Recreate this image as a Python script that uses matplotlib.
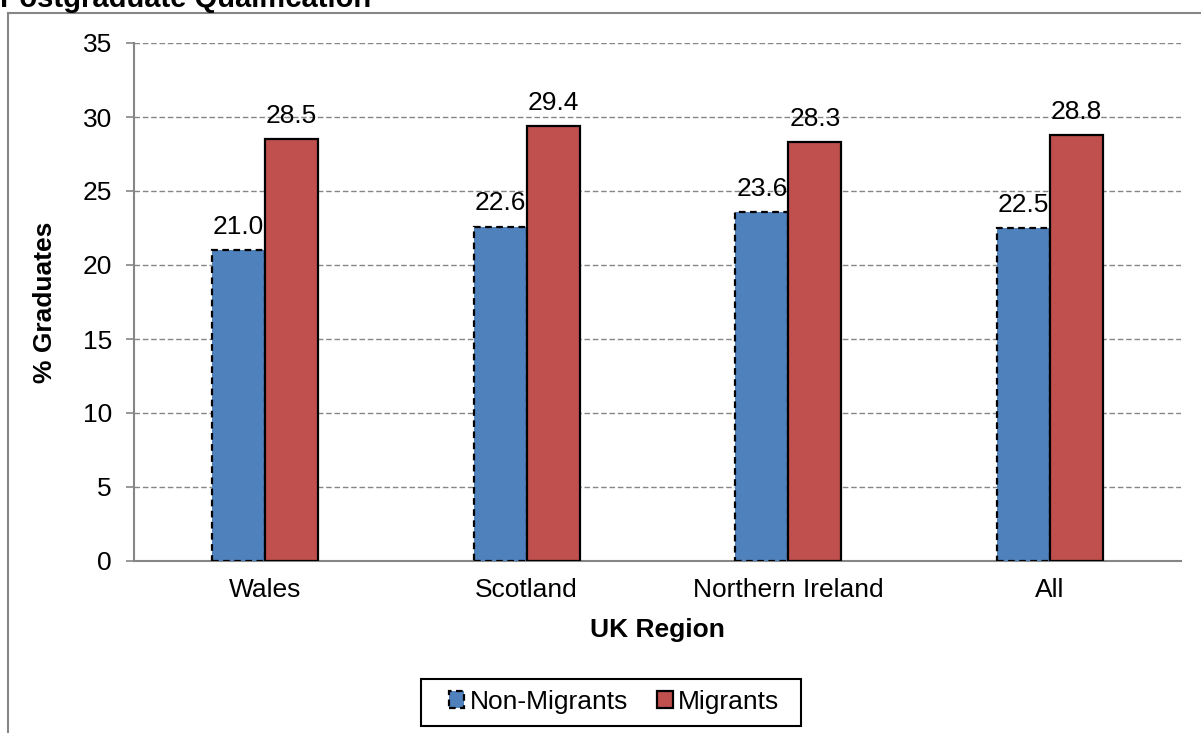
import numpy as np
import matplotlib.pyplot as plt
from matplotlib.patches import Patch, Rectangle
from matplotlib.lines import Line2D

regions = ["Wales", "Scotland", "Northern Ireland", "All"]
non_migrants = [21.0, 22.6, 23.6, 22.5]
migrants = [28.5, 29.4, 28.3, 28.8]
y_ticks = [0, 5, 10, 15, 20, 25, 30, 35]

BLUE = "#4F81BD"
RED = "#C0504D"
GREY = "#868686"

plt.rcParams["font.family"] = ["Liberation Sans", "DejaVu Sans"]

W, H = 1201, 733
fig = plt.figure(figsize=(W / 100, H / 100), dpi=100)

# plot area placed in pixel terms
left, right, top, bottom = 134, 1181, 43, 561
ax = fig.add_axes([left / W, 1 - bottom / H, (right - left) / W, (bottom - top) / H])

x = np.arange(len(regions))
bw = 0.2025
b1 = ax.bar(x - bw / 2, non_migrants, bw, color=BLUE, edgecolor="black",
            linewidth=1.6, linestyle=(0, (3, 2)), zorder=3)
b2 = ax.bar(x + bw / 2, migrants, bw, color=RED, edgecolor="black",
            linewidth=1.6, zorder=3)

for bars, vals in ((b1, non_migrants), (b2, migrants)):
    for rect, v in zip(bars, vals):
        ax.annotate(f"{v:.1f}", (rect.get_x() + rect.get_width() / 2, v),
                    xytext=(0, 8), textcoords="offset points",
                    ha="center", va="bottom", fontsize=19)

ax.set_xlim(-0.5, len(regions) - 0.5)
ax.set_ylim(0, 35)
ax.set_yticks(y_ticks)
ax.set_xticks(x)
ax.set_xticklabels(regions)
ax.tick_params(axis="y", labelsize=19, length=6, color=GREY, width=1.2, pad=10)
ax.tick_params(axis="x", labelsize=19, length=0, pad=12)
ax.yaxis.grid(True, color=GREY, linestyle=(0, (4, 2)), linewidth=1.0, zorder=0)
ax.set_axisbelow(True)
for s in ("top", "right"):
    ax.spines[s].set_visible(False)
for s in ("left", "bottom"):
    ax.spines[s].set_color(GREY)
    ax.spines[s].set_linewidth(1.5)

ax.set_xlabel("UK Region", fontsize=19, fontweight="bold", labelpad=12)
ax.set_ylabel("% Graduates", fontsize=19, fontweight="bold", labelpad=18)

handles = [
    Patch(facecolor=BLUE, edgecolor="black", linestyle=(0, (3, 2)), linewidth=1.6),
    Patch(facecolor=RED, edgecolor="black", linewidth=1.6),
]
fig.legend(handles, ["Non-Migrants", "Migrants"], loc="center",
           bbox_to_anchor=(614 / W, 1 - 702 / H), ncol=2, fontsize=19,
           frameon=False, handlelength=0.6, handleheight=0.6,
           handletextpad=0.2, columnspacing=1.1, borderpad=0.35)
# legend box drawn wider than the default frame
fig.add_artist(Rectangle((421 / W, 1 - 726 / H), 380 / W, 47 / H, fill=False,
                         edgecolor="black", lw=1.5, transform=fig.transFigure))

# chart border, running off the right and bottom edges
fig.add_artist(Line2D([8 / W, 8 / W], [-0.1, 1 - 13 / H], color=GREY, lw=1.5,
                      transform=fig.transFigure))
fig.add_artist(Line2D([8 / W, 1.1], [1 - 13 / H, 1 - 13 / H], color=GREY, lw=1.5,
                      transform=fig.transFigure))

fig.text(0, 1 - 7 / H, "Postgraduate Qualification", fontsize=21,
         fontweight="bold", ha="left", va="baseline")

fig.savefig("out.png", dpi=100)
